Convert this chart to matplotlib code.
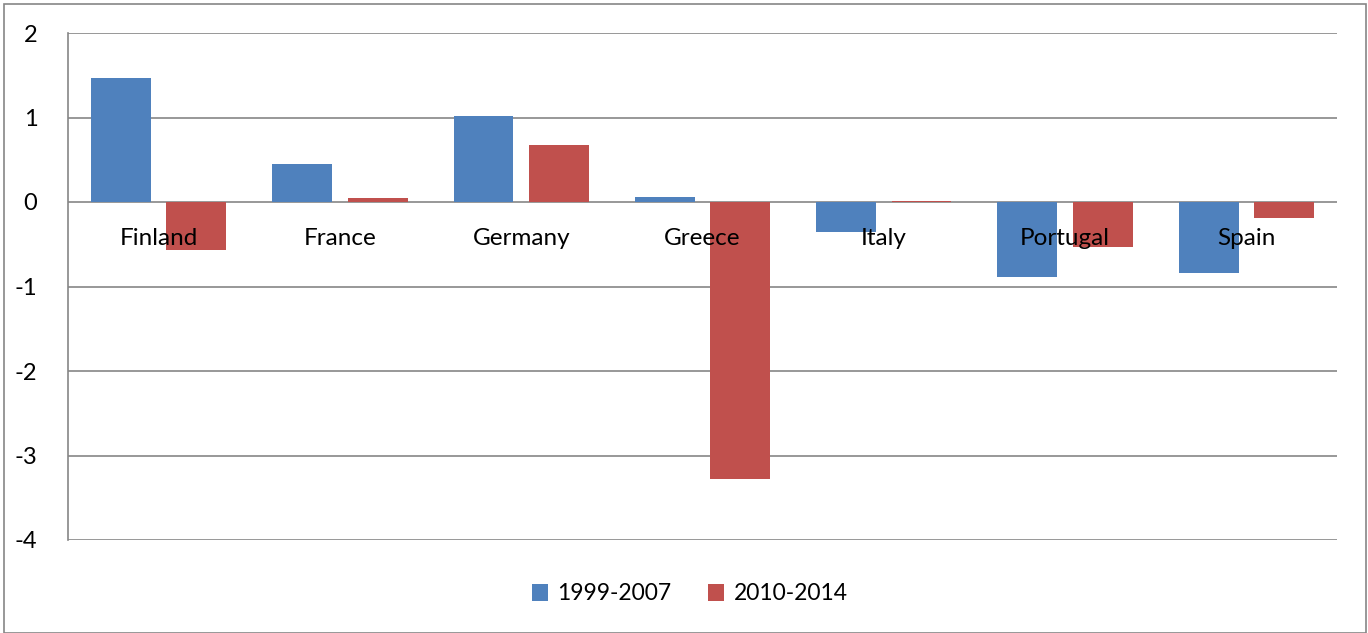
import matplotlib.pyplot as plt
import numpy as np
from matplotlib.patches import Rectangle

countries = ["Finland", "France", "Germany", "Greece", "Italy", "Portugal", "Spain"]
period_1999_2007 = [1.47, 0.45, 1.02, 0.06, -0.35, -0.89, -0.84]
period_2010_2014 = [-0.57, 0.05, 0.67, -3.28, 0.01, -0.53, -0.185]
y_ticks = [2, 1, 0, -1, -2, -3, -4]

plt.rcParams['font.family'] = ['Lato', 'DejaVu Sans']

fig = plt.figure(figsize=(13.68, 6.33), dpi=100)
ax = fig.add_axes([68 / 1368, 93 / 633, 1269 / 1368, 507 / 633])

x = np.arange(len(countries))
w = 0.33
off = 0.208
ax.bar(x - off, period_1999_2007, w, color='#4F81BD', label='1999-2007', zorder=3)
ax.bar(x + off, period_2010_2014, w, color='#C0504D', label='2010-2014', zorder=3)

ax.set_xlim(-0.5, len(countries) - 0.5)
ax.set_ylim(-4, 2)
ax.set_yticks(y_ticks)
ax.set_yticklabels([str(t) for t in y_ticks], fontsize=17)
ax.tick_params(axis='y', length=0, pad=22)
ax.set_xticks([])
for i, c in enumerate(countries):
    ax.text(i, -0.43, c, ha='center', va='center', fontsize=17.5, zorder=4)

ax.grid(axis='y', color='#868686', linewidth=1.2, zorder=1)
for s in ['top', 'right', 'bottom']:
    ax.spines[s].set_visible(False)
ax.spines['left'].set_color('#868686')
ax.spines['left'].set_linewidth(1.2)

leg = fig.legend(loc='center', bbox_to_anchor=(690 / 1368, 1 - 594 / 633), ncol=2,
                 frameon=False, fontsize=16.5, handlelength=0.7, handleheight=0.7,
                 handletextpad=0.4, columnspacing=1.6)

fig.patches.append(Rectangle((4 / 1368, 0), 1362 / 1368, 629 / 633, transform=fig.transFigure,
                             fill=False, edgecolor='#868686', linewidth=1.2))

fig.savefig('out.png', dpi=100)
